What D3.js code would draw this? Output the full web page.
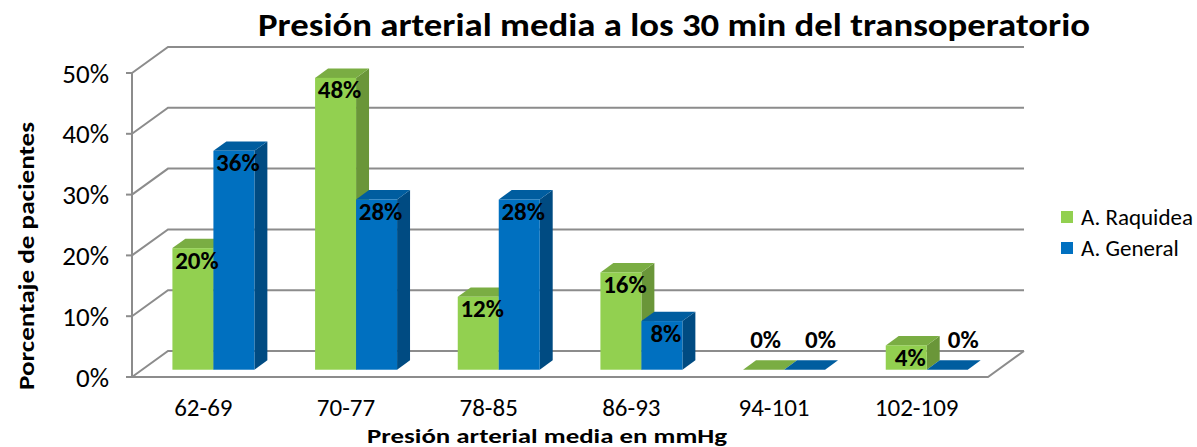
<!DOCTYPE html>
<html>
<head>
<meta charset="utf-8">
<script src="https://cdn.jsdelivr.net/npm/d3@7"></script>
<style>
  html, body { margin: 0; padding: 0; background: #fff; }
  svg { display: block; }
  text { font-family: Carlito, Calibri, Lato, "Open Sans", sans-serif; fill: #000; }
</style>
</head>
<body>
<svg id="chart" width="1197" height="447"></svg>
<script>
// Mean arterial pressure 30 min into the trans-operative period, by anaesthesia type
const categories = ["62-69", "70-77", "78-85", "86-93", "94-101", "102-109"];
const seriesNames = ["A. Raquidea", "A. General"];
const raquidea = [20, 48, 12, 16, 0, 4];
const general = [36, 28, 28, 8, 0, 0];
const yTicks = [0, 10, 20, 30, 40, 50];

const titleText = "Presión arterial media a los 30 min del transoperatorio";
const xTitleText = "Presión arterial media en mmHg";
const yTitleText = "Porcentaje de pacientes";

const colors = {
  "A. Raquidea": { face: "#92D050", top: "#7AAD43", side: "#6A9639" },
  "A. General":  { face: "#0070C0", top: "#005D9F", side: "#004B82" }
};

const svg = d3.select("#chart");

// Front plane of the 3D box and the depth vector to the back wall
const frontLeft = 132, frontRight = 988;
const depthDX = 36, depthDY = -26;
const barD0 = 0.28, barD1 = 0.64;   // depth slice occupied by the columns

const x0 = d3.scaleBand().domain(categories).range([frontLeft, frontRight]).paddingInner(0).paddingOuter(0);
const x1 = d3.scaleBand().domain(seriesNames).range([0, x0.bandwidth()]).paddingInner(0).paddingOuter(0.74);
const y = d3.scaleLinear().domain([0, 50]).range([377, 73]);

// project a front-plane point (x, value) pushed back by depth fraction d
const P = (x, v, d) => [x + d * depthDX, y(v) + d * depthDY];
const line = d3.line();

const gridColor = "#8C8C8C";
const walls = svg.append("g");

// left wall diagonals and back wall gridlines
yTicks.forEach(t => {
  walls.append("path")
    .attr("d", line([P(frontLeft, t, 0), P(frontLeft, t, 1), P(frontRight, t, 1)]))
    .attr("fill", "none").attr("stroke", gridColor).attr("stroke-width", 2);
  walls.append("line")
    .attr("x1", frontLeft - 6).attr("x2", frontLeft)
    .attr("y1", y(t)).attr("y2", y(t))
    .attr("stroke", gridColor).attr("stroke-width", 2);
});
// vertical axis line and floor edges
walls.append("path")
  .attr("d", line([P(frontLeft, 50, 0), P(frontLeft, 0, 0), P(frontRight, 0, 0), P(frontRight, 0, 1)]))
  .attr("fill", "none").attr("stroke", gridColor).attr("stroke-width", 2);

// columns
const rows = categories.map((c, i) => ({ cat: c, vals: [raquidea[i], general[i]] }));
const bars = svg.append("g");
rows.forEach(r => {
  seriesNames.forEach((s, j) => {
    const v = r.vals[j];
    const xa = x0(r.cat) + x1(s);
    const xb = xa + x1.bandwidth();
    const col = colors[s];
    // right side face
    bars.append("path")
      .attr("d", line([P(xb, 0, barD0), P(xb, 0, barD1), P(xb, v, barD1), P(xb, v, barD0)]) + "Z")
      .attr("fill", col.side);
    // top face
    bars.append("path")
      .attr("d", line([P(xa, v, barD0), P(xb, v, barD0), P(xb, v, barD1), P(xa, v, barD1)]) + "Z")
      .attr("fill", col.top);
    // front face
    if (v > 0) {
      const [fx, fy] = P(xa, v, barD0);
      const [, by] = P(xa, 0, barD0);
      bars.append("rect")
        .attr("x", fx).attr("y", fy)
        .attr("width", xb - xa).attr("height", by - fy)
        .attr("fill", col.face);
    }
  });
});

// value labels
const labels = svg.append("g");
rows.forEach(r => {
  seriesNames.forEach((s, j) => {
    const v = r.vals[j];
    const xa = x0(r.cat) + x1(s);
    const [fx, fy] = P(xa + x1.bandwidth() / 2, v, barD0);
    const lx = v > 0 ? fx + 4 : fx + (j === 0 ? 2 : 16);
    const ly = v > 0 ? fy + 12 : fy - 30;
    labels.append("text")
      .attr("x", lx).attr("y", ly)
      .attr("text-anchor", "middle").attr("dominant-baseline", "central")
      .attr("font-weight", "bold").attr("font-size", 25)
      .text(v + "%");
  });
});

// y tick labels
svg.append("g").selectAll("text").data(yTicks).join("text")
  .attr("x", 109).attr("y", d => y(d))
  .attr("text-anchor", "end").attr("dominant-baseline", "central")
  .attr("font-size", 27)
  .text(d => d + "%");

// category labels along the front edge
svg.append("g").selectAll("text").data(categories).join("text")
  .attr("x", d => x0(d) + x0.bandwidth() / 2).attr("y", 416)
  .attr("text-anchor", "middle")
  .attr("font-size", 25)
  .text(d => d);

// titles
svg.append("text")
  .attr("x", 258).attr("y", 36)
  .attr("font-size", 32).attr("font-weight", "bold")
  .attr("textLength", 832).attr("lengthAdjust", "spacingAndGlyphs")
  .text(titleText);

svg.append("text")
  .attr("x", 367).attr("y", 443)
  .attr("font-size", 20).attr("font-weight", "bold")
  .attr("textLength", 360).attr("lengthAdjust", "spacingAndGlyphs")
  .text(xTitleText);

svg.append("text")
  .attr("transform", "translate(34,256) rotate(-90)")
  .attr("text-anchor", "middle")
  .attr("font-size", 23).attr("font-weight", "bold")
  .attr("textLength", 268).attr("lengthAdjust", "spacingAndGlyphs")
  .text(yTitleText);

// legend
const legend = svg.append("g").attr("transform", "translate(1061,211)");
seriesNames.forEach((s, i) => {
  const g = legend.append("g").attr("transform", `translate(0,${i * 31})`);
  g.append("rect").attr("width", 12).attr("height", 12).attr("fill", colors[s].face);
  g.append("text").attr("x", 20).attr("y", 6)
    .attr("dominant-baseline", "central").attr("font-size", 23)
    .text(s);
});
</script>
</body>
</html>
